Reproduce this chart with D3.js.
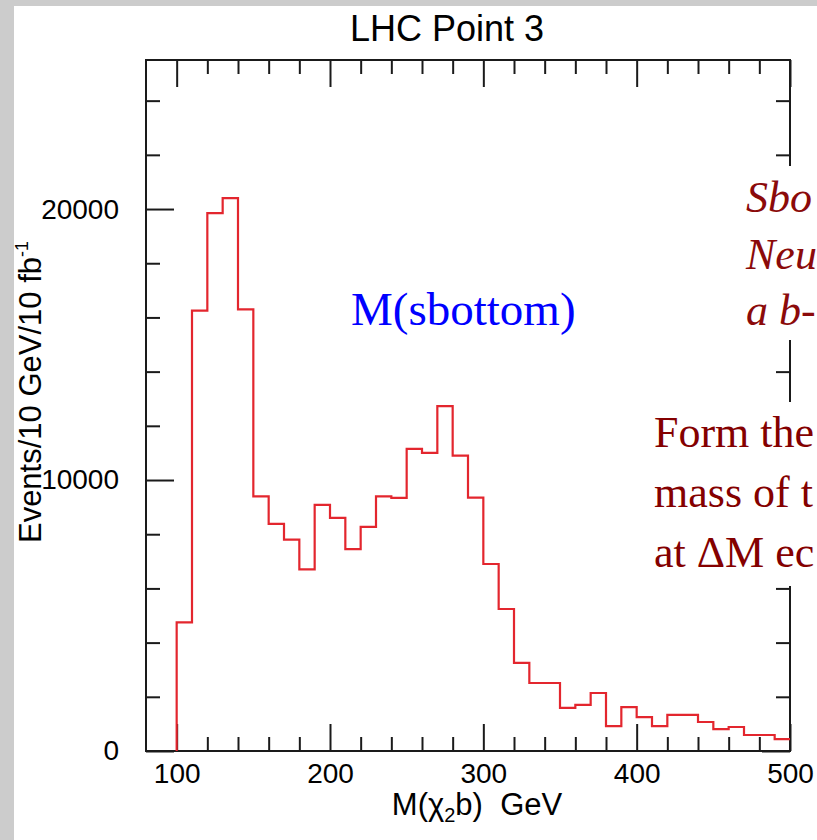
<!DOCTYPE html>
<html>
<head>
<meta charset="utf-8">
<script src="https://cdn.jsdelivr.net/npm/d3@7"></script>
<style>
  html, body { margin: 0; padding: 0; background: #cccccc; overflow: hidden; }
  svg { display: block; }
  text { white-space: pre; }
</style>
</head>
<body>
<div id="chart"></div>
<script>
// ---------------- data ----------------
const title = "LHC Point 3";
const binLow = [100,110,120,130,140,150,160,170,180,190,200,210,220,230,240,250,260,270,280,290,
                300,310,320,330,340,350,360,370,380,390,400,410,420,430,440,450,460,470,480,490];
const binHigh = 500;
const events = [4750,16250,19850,20400,16300,9400,8380,7800,6700,9080,8600,7450,8270,9400,9340,11150,11000,12730,10900,9350,
                6900,5240,3250,2510,2510,1590,1700,2140,920,1620,1250,920,1330,1330,1070,810,885,590,590,440];
const xMajorTicks = [100,200,300,400,500];
const xMinorTicks = [120,140,160,180,220,240,260,280,320,340,360,380,420,440,460,480];
const yMajorTicks = [0,10000,20000];
const yMinorTicks = [2000,4000,6000,8000,12000,14000,16000,18000,22000,24000];
// annotation text as visible in the reference (cut by the slide edge)
const italicNotes = ["Sbo", "Neu", "a b-"];
const plainNotes = ["Form the", "mass of t", "at \u0394M ec"];

// ---------------- layout ----------------
const W = 817, H = 840;
const L = 146, R = 790, T = 60, B = 751;

const svg = d3.select("#chart").append("svg").attr("width", W).attr("height", H);

svg.append("rect").attr("x", 0).attr("y", 0).attr("width", W).attr("height", H).attr("fill", "#cccccc");
svg.append("rect").attr("x", 14).attr("y", 6).attr("width", W - 14).attr("height", H - 6).attr("fill", "#ffffff");

const x = d3.scaleLinear().domain([80, 500]).range([L, R]);
const y = d3.scaleLinear().domain([0, 25500]).range([B, T]);

const font = "'Liberation Sans', Arial, Helvetica, sans-serif";
const serif = "'Liberation Serif', 'Times New Roman', serif";
const axisColor = "#1a1a1a";

function styleAxis(g) {
  g.select(".domain").remove();
  g.selectAll(".tick line").attr("stroke", axisColor).attr("stroke-width", 2);
  g.selectAll(".tick text").attr("fill", "#000").style("font-family", font).style("font-size", "28px");
}

// bottom axis
svg.append("g").attr("transform", `translate(0,${B})`)
  .call(d3.axisBottom(x).tickValues(xMajorTicks).tickSize(-27).tickPadding(12).tickFormat(d3.format("d")))
  .call(styleAxis);
svg.append("g").attr("transform", `translate(0,${B})`)
  .call(d3.axisBottom(x).tickValues(xMinorTicks).tickSize(-14).tickFormat(""))
  .call(styleAxis);
// top axis
svg.append("g").attr("transform", `translate(0,${T})`)
  .call(d3.axisTop(x).tickValues(xMajorTicks).tickSize(-27).tickFormat(""))
  .call(styleAxis);
svg.append("g").attr("transform", `translate(0,${T})`)
  .call(d3.axisTop(x).tickValues(xMinorTicks).tickSize(-14).tickFormat(""))
  .call(styleAxis);
// left axis
svg.append("g").attr("transform", `translate(${L},0)`)
  .call(d3.axisLeft(y).tickValues(yMajorTicks).tickSize(-28).tickPadding(27).tickFormat(d3.format("d")))
  .call(styleAxis);
svg.append("g").attr("transform", `translate(${L},0)`)
  .call(d3.axisLeft(y).tickValues(yMinorTicks).tickSize(-14).tickFormat(""))
  .call(styleAxis);
// right axis
svg.append("g").attr("transform", `translate(${R},0)`)
  .call(d3.axisRight(y).tickValues(yMajorTicks).tickSize(-28).tickFormat(""))
  .call(styleAxis);
svg.append("g").attr("transform", `translate(${R},0)`)
  .call(d3.axisRight(y).tickValues(yMinorTicks).tickSize(-14).tickFormat(""))
  .call(styleAxis);

// frame
svg.append("rect").attr("x", L).attr("y", T).attr("width", R - L).attr("height", B - T)
  .attr("fill", "none").attr("stroke", axisColor).attr("stroke-width", 2);

// histogram
const pts = [[binLow[0], 0]];
binLow.forEach((b, i) => pts.push([b, events[i]]));
pts.push([binHigh, events[events.length - 1]]);
const line = d3.line().x(d => x(d[0])).y(d => y(d[1])).curve(d3.curveStepAfter);
svg.append("path").attr("d", line(pts)).attr("fill", "none")
  .attr("stroke", "#e3262e").attr("stroke-width", 2.2).attr("stroke-linejoin", "miter");

// title
svg.append("text").attr("x", 447).attr("y", 41).attr("text-anchor", "middle")
  .style("font-family", font).style("font-size", "36px").attr("fill", "#000").text(title);

// x label
const xl = svg.append("text").attr("x", 477).attr("y", 815).attr("text-anchor", "middle")
  .style("font-family", font).style("font-size", "31px").attr("fill", "#000");
xl.append("tspan").text("M(\u03C7");
xl.append("tspan").attr("dy", 7).style("font-size", "20px").text("2");
xl.append("tspan").attr("dy", -7).text("b)  GeV");

// y label
const yl = svg.append("text").attr("transform", "translate(41,392) rotate(-90)").attr("text-anchor", "middle")
  .style("font-family", font).style("font-size", "31px").attr("fill", "#000");
yl.append("tspan").text("Events/10 GeV/10 fb");
yl.append("tspan").attr("dy", -13).style("font-size", "18px").text("-1");

// annotation boxes (white background covering the frame)
svg.append("rect").attr("x", 740).attr("y", 166).attr("width", W - 740).attr("height", 174).attr("fill", "#fff");
svg.append("rect").attr("x", 645).attr("y", 402).attr("width", W - 645).attr("height", 184).attr("fill", "#fff");

svg.append("text").attr("x", 351).attr("y", 325)
  .style("font-family", serif).style("font-size", "47px").attr("fill", "#0000ff").text("M(sbottom)");

svg.selectAll("text.ital").data(italicNotes).enter().append("text").attr("class", "ital")
  .attr("x", 746).attr("y", (d, i) => 212 + i * 56.5)
  .style("font-family", serif).style("font-size", "44px").style("font-style", "italic")
  .attr("fill", "#8b0a0a").text(d => d);

svg.selectAll("text.plain").data(plainNotes).enter().append("text").attr("class", "plain")
  .attr("x", 654).attr("y", (d, i) => 447 + i * 60)
  .style("font-family", serif).style("font-size", "44px")
  .attr("fill", "#840000").text(d => d);
</script>
</body>
</html>
